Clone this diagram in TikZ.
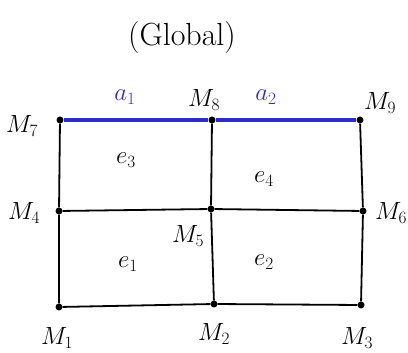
\documentclass[tikz,border=0pt]{standalone}
\usepackage{amsmath}
\usepackage{tikz}
\usetikzlibrary{positioning, calc}

\definecolor{edgeblue}{RGB}{45,45,200}

\begin{document}
\begin{tikzpicture}[x=1pt, y=-1pt,
    pt/.style={circle, fill=black, inner sep=0pt, minimum size=7pt},
    lbl/.style={font=\fontsize{24}{28}\selectfont},
    elbl/.style={font=\fontsize{26}{30}\selectfont},
    mesh/.style={line width=1.8pt},
    bound/.style={line width=4pt, edgeblue}]
    \useasboundingbox (0,0) rectangle (408,353);

    % Title
    \node[font=\fontsize{32}{36}\selectfont] (title) at (182,38) {(Global)};

    % Mesh nodes
    \node[pt] (m1) at (59,307) {};
    \node[pt] (m2) at (214,304) {};
    \node[pt] (m3) at (361,305) {};
    \node[pt] (m4) at (59,211) {};
    \node[pt] (m5) at (211,209) {};
    \node[pt] (m6) at (363,211) {};
    \node[pt] (m7) at (60,120) {};
    \node[pt] (m8) at (212,120) {};
    \node[pt] (m9) at (360,120) {};

    % Mesh edges
    \draw[mesh] (m1) -- (m2) -- (m3);
    \draw[mesh] (m4) -- (m5) -- (m6);
    \draw[mesh] (m1) -- (m4) -- (m7);
    \draw[mesh] (m2) -- (m5) -- (m8);
    \draw[mesh] (m3) -- (m6) -- (m9);

    % Boundary edges
    \draw[bound] (m7) -- (m8) -- (m9);

    % Node labels
    \node[lbl] (l1) at (57,338) {$M_1$};
    \node[lbl] (l2) at (214,334) {$M_2$};
    \node[lbl] (l3) at (357,338) {$M_3$};
    \node[lbl] (l4) at (24,213) {$M_4$};
    \node[lbl] (l5) at (188,236) {$M_5$};
    \node[lbl] (l6) at (391,213) {$M_6$};
    \node[lbl] (l7) at (22,126) {$M_7$};
    \node[lbl] (l8) at (204,100) {$M_8$};
    \node[lbl] (l9) at (380,103) {$M_9$};

    % Element labels
    \node[elbl] (e1) at (128,264) {$e_1$};
    \node[elbl] (e2) at (264,262) {$e_2$};
    \node[elbl] (e3) at (126,160) {$e_3$};
    \node[elbl] (e4) at (264,179) {$e_4$};

    % Boundary labels
    \node[elbl, text=edgeblue] (a1) at (125,97) {$a_1$};
    \node[elbl, text=edgeblue] (a2) at (266,97) {$a_2$};

\end{tikzpicture}
\end{document}
